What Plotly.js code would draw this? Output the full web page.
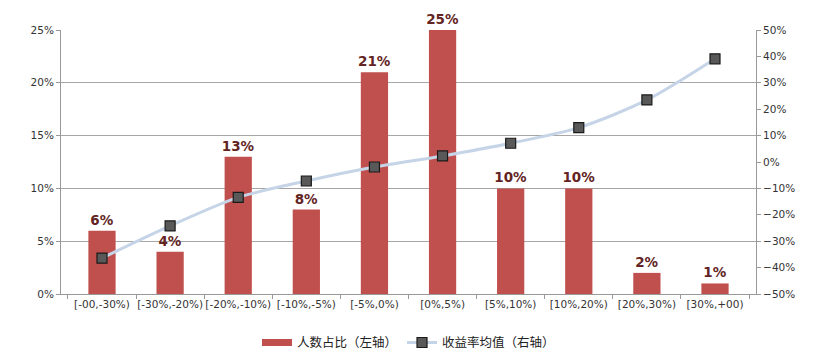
<!DOCTYPE html>
<html><head><meta charset="utf-8">
<script src="https://cdn.plot.ly/plotly-3.0.1.min.js"></script>
<style>body{margin:0;background:#fff}#c{width:824px;height:364px}</style>
</head><body><div id="c"></div>
<script>
const categories = ["[-00,-30%)","[-30%,-20%)","[-20%,-10%)","[-10%,-5%)","[-5%,0%)","[0%,5%)","[5%,10%)","[10%,20%)","[20%,30%)","[30%,+00)"];
const shareValues = [0.06,0.04,0.13,0.08,0.21,0.25,0.10,0.10,0.02,0.01];
const returnValues = [-0.364,-0.242,-0.134,-0.072,-0.019,0.023,0.071,0.130,0.235,0.391];
const barName = "人数占比（左轴）";
const lineName = "收益率均值（右轴）";

const fontFam = "DejaVu Sans, Noto Sans CJK SC, sans-serif";
const tickFam = "DejaVu Sans, Noto Sans CJK SC, sans-serif";
const traces = [
  {type:'bar', x:categories, y:shareValues, name:barName, yaxis:'y', showlegend:false,
   marker:{color:'#c0504d'},
   texttemplate:'%{y:.0%}', textposition:'outside', cliponaxis:false, constraintext:'none',
   textfont:{family:fontFam, size:13.5, color:'#632523', weight:'bold'},
   hoverinfo:'none'},
  {type:'scatter', mode:'lines', x:[null], y:[null], name:barName, yaxis:'y',
   line:{color:'#c0504d', width:7}, hoverinfo:'none'},
  {type:'scatter', mode:'lines+markers', x:categories, y:returnValues, name:lineName, yaxis:'y2',
   line:{color:'#c6d4e7', width:3, shape:'spline', smoothing:0.8},
   marker:{symbol:'square', size:10, color:'#595959', line:{color:'#1a1a1a', width:1.2}},
   hoverinfo:'none'}
];
const layout = {
  width:824, height:364,
  margin:{l:61, r:68, t:30, b:70},
  paper_bgcolor:'#fff', plot_bgcolor:'#fff',
  font:{family:tickFam, size:10.5, color:'#333'},
  bargap:0.6,
  showlegend:true,
  legend:{orientation:'h', x:0.5, xanchor:'center', yref:'container', y:0.058, yanchor:'middle',
          font:{family:"Noto Sans CJK SC, sans-serif", size:12.5, color:'#222'}, traceorder:'normal'},
  xaxis:{type:'category', showline:true, linecolor:'#999', linewidth:1,
         ticks:'outside', tickson:'boundaries', ticklen:4, tickcolor:'#999', tickangle:0,
         showgrid:false, tickfont:{size:10.5, color:'#333'}, automargin:false},
  yaxis:{range:[0,0.25], dtick:0.05, tickformat:'.0%', showgrid:true, gridcolor:'#a6a6a6', gridwidth:1,
         showline:true, linecolor:'#999', ticks:'outside', ticklen:4, tickcolor:'#999',
         zeroline:false, tickfont:{size:10.5, color:'#333'}, automargin:false},
  yaxis2:{range:[-0.5,0.5], dtick:0.1, tickformat:'.0%', overlaying:'y', side:'right',
          showgrid:false, zeroline:false, showline:true, linecolor:'#999',
          ticks:'outside', ticklen:4, tickcolor:'#999', tickfont:{size:10.5, color:'#333'}, automargin:false}
};
Plotly.newPlot('c', traces, layout, {displayModeBar:false, staticPlot:true});
</script></body></html>
